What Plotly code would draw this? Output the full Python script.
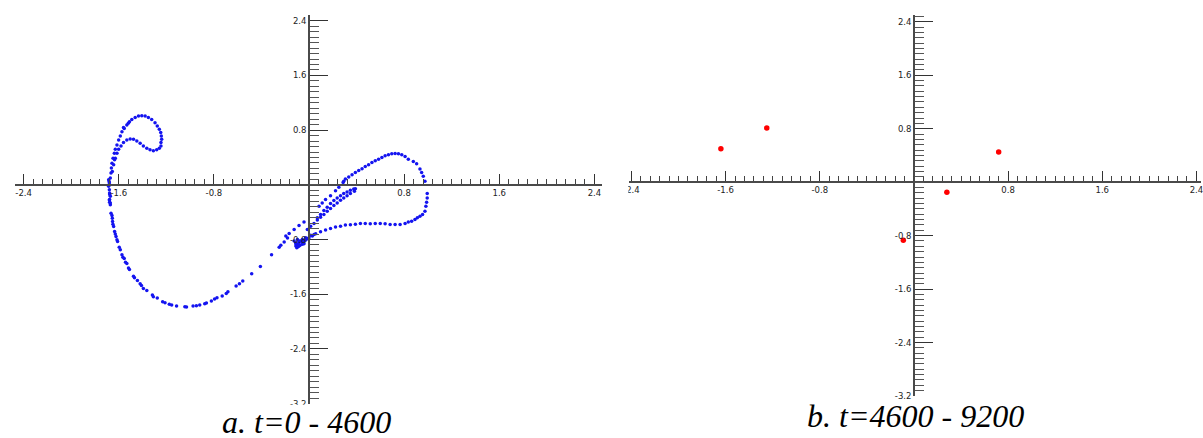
import plotly.graph_objects as go

W, H = 1203, 438

# ---------------- data ----------------
# panel a: trajectory points, t = 0 - 4600
hook_outer_x = [-1.671, -1.665, -1.662, -1.657, -1.648, -1.637, -1.629, -1.615, -1.601, -1.587, -1.573,
                -1.554, -1.532, -1.510, -1.490, -1.462, -1.434, -1.406, -1.378, -1.351, -1.323, -1.295,
                -1.276, -1.259, -1.247, -1.242, -1.239, -1.245, -1.654, -1.643, -1.635, -1.560, -1.520]
hook_outer_y = [0.099, 0.172, 0.245, 0.317, 0.390, 0.463, 0.521, 0.584, 0.657, 0.716, 0.778,
                0.826, 0.875, 0.924, 0.957, 0.986, 1.006, 1.011, 1.006, 0.986, 0.957, 0.909,
                0.861, 0.812, 0.764, 0.716, 0.666, 0.618, 0.196, 0.294, 0.366, 0.840, 0.900]

hook_inner_x = [-1.629, -1.615, -1.601, -1.581, -1.560, -1.532, -1.504, -1.476, -1.448, -1.420, -1.393,
                -1.364, -1.337, -1.309, -1.281, -1.259, -1.245]
hook_inner_y = [0.390, 0.463, 0.521, 0.570, 0.618, 0.657, 0.672, 0.666, 0.643, 0.608, 0.570,
                0.535, 0.512, 0.497, 0.512, 0.535, 0.570]

left_edge_x = [-1.685, -1.679, -1.685, -1.679, -1.677, -1.671, -1.677, -1.671, -1.681, -1.676]
left_edge_y = [0.076, 0.026, -0.022, -0.070, -0.119, -0.167, -0.215, -0.264, 0.050, -0.140]

big_loop_x = [-1.679, -1.677, -1.671, -1.665, -1.657, -1.654, -1.652, -1.649, -1.643, -1.635, -1.629,
              -1.623, -1.615, -1.610, -1.596, -1.587, -1.573, -1.565, -1.554, -1.543, -1.532, -1.518,
              -1.510, -1.476, -1.468, -1.443, -1.420, -1.409, -1.393, -1.364, -1.317, -1.309, -1.276,
              -1.231, -1.211, -1.175, -1.155, -1.114, -1.044, -1.030, -0.975, -0.947, -0.919, -0.877,
              -0.863, -0.821, -0.794, -0.774, -0.730, -0.696, -0.682, -0.613, -0.585, -0.557, -0.482,
              -0.409, -0.315, -0.251, -0.237, -0.209, -0.181]
big_loop_y = [-0.221, -0.255, -0.293, -0.415, -0.449, -0.487, -0.536, -0.575, -0.609, -0.681, -0.720,
              -0.754, -0.803, -0.827, -0.914, -0.948, -1.021, -1.060, -1.079, -1.132, -1.152, -1.215,
              -1.239, -1.336, -1.360, -1.399, -1.447, -1.472, -1.516, -1.545, -1.612, -1.636, -1.655,
              -1.709, -1.724, -1.748, -1.757, -1.772, -1.782, -1.786, -1.772, -1.767, -1.757, -1.738,
              -1.728, -1.699, -1.670, -1.651, -1.626, -1.588, -1.564, -1.481, -1.447, -1.408, -1.302,
              -1.196, -1.021, -0.914, -0.884, -0.836, -0.778]

outer_lobe_x = [0.292, 0.306, 0.334, 0.362, 0.390, 0.418, 0.446, 0.473, 0.501, 0.529, 0.557, 0.585,
                0.613, 0.640, 0.668, 0.696, 0.724, 0.752, 0.780, 0.808, 0.835, 0.877, 0.905, 0.933,
                0.947, 0.961, 0.975, 0.994, 0.994, 0.989, 0.983, 0.975, 0.955, 0.933, 0.911, 0.891,
                0.863, 0.835, 0.808, 0.766, 0.724, 0.682, 0.640, 0.599, 0.557, 0.515, 0.473, 0.432,
                0.390, 0.348, 0.306, 0.265, 0.223, 0.181, 0.139, 0.097, 0.056, 0.014, -0.028, -0.056,
                -0.084, -0.111]
outer_lobe_y = [0.051, 0.085, 0.114, 0.148, 0.182, 0.211, 0.235, 0.269, 0.293, 0.327, 0.352, 0.376,
                0.400, 0.424, 0.439, 0.453, 0.458, 0.453, 0.439, 0.415, 0.376, 0.342, 0.308, 0.230,
                0.182, 0.124, 0.051, -0.128, -0.192, -0.255, -0.313, -0.385, -0.434, -0.458, -0.482, -0.507,
                -0.531, -0.545, -0.565, -0.579, -0.579, -0.579, -0.570, -0.565, -0.565, -0.570, -0.565, -0.565,
                -0.575, -0.584, -0.589, -0.604, -0.618, -0.638, -0.662, -0.686, -0.715, -0.739, -0.773, -0.798,
                -0.822, -0.861]

lobe_branch_x = [-0.195, -0.167, -0.125, -0.084, -0.042, 0.084, 0.111, 0.139, 0.181, 0.223, 0.251, 0.287]
lobe_branch_y = [-0.749, -0.710, -0.652, -0.594, -0.545, -0.313, -0.264, -0.216, -0.158, -0.085, -0.036, 0.036]

mid_lobe_x = [0.070, 0.097, 0.125, 0.153, 0.181, 0.209, 0.237, 0.265, 0.292, 0.320, 0.348, 0.376, 0.390,
              0.382, 0.348, 0.320, 0.292, 0.265, 0.237, 0.209, 0.181, 0.153, 0.125, 0.097, 0.070, 0.042,
              0.014, -0.014]
mid_lobe_y = [-0.482, -0.434, -0.376, -0.327, -0.274, -0.230, -0.192, -0.158, -0.128, -0.104, -0.080, -0.061, -0.056,
              -0.095, -0.128, -0.158, -0.192, -0.225, -0.264, -0.303, -0.347, -0.385, -0.434, -0.473, -0.516, -0.565,
              -0.604, -0.652]

cluster_x = [-0.111, -0.097, -0.084, -0.070, -0.103, -0.092, -0.056, -0.042, -0.028, -0.014, 0.000,
             -0.075, -0.111, -0.125, -0.097, 0.028, 0.042, -0.056, -0.084, -0.042]
cluster_y = [-0.895, -0.870, -0.846, -0.822, -0.919, -0.904, -0.846, -0.822, -0.807, -0.788, -0.773,
             -0.885, -0.846, -0.822, -0.798, -0.749, -0.725, -0.870, -0.895, -0.861]

# panel b: points, t = 4600 - 9200
b_x = [-1.64, -1.25, 0.72, 0.28, -0.09]
b_y = [0.50, 0.81, 0.45, -0.15, -0.87]

x_tick_vals = [-2.4, -1.6, -0.8, 0.8, 1.6, 2.4]
x_tick_text = ["-2.4", "-1.6", "-0.8", "0.8", "1.6", "2.4"]
y_tick_vals = [2.4, 1.6, 0.8, -0.8, -1.6, -2.4, -3.2]
y_tick_text = ["2.4", "1.6", "0.8", "-0.8", "-1.6", "-2.4", "-3.2"]
captions = ["a. t=0 - 4600", "b. t=4600 - 9200"]

# ---------------- figure ----------------
a_x = hook_outer_x + hook_inner_x + left_edge_x + big_loop_x + outer_lobe_x + lobe_branch_x + mid_lobe_x + cluster_x
a_y = hook_outer_y + hook_inner_y + left_edge_y + big_loop_y + outer_lobe_y + lobe_branch_y + mid_lobe_y + cluster_y

fig = go.Figure()
fig.add_trace(go.Scatter(x=a_x, y=a_y, mode="markers", xaxis="x", yaxis="y",
                         marker=dict(color="#1414f0", size=3.5, line=dict(width=0)),
                         showlegend=False, hoverinfo="skip"))
fig.add_trace(go.Scatter(x=b_x, y=b_y, mode="markers", xaxis="x2", yaxis="y2",
                         marker=dict(color="#ff0000", size=5.5, line=dict(width=0)),
                         showlegend=False, hoverinfo="skip"))

tickfont = dict(family="DejaVu Sans", size=8.5, color="#222")
line_col = "#4a4a4a"


def xaxis_cfg(domain, rng, pos):
    return dict(domain=domain, range=rng, anchor="free", position=pos,
                showline=True, linecolor=line_col, linewidth=1.6,
                showgrid=False, zeroline=False,
                tickmode="array", tickvals=x_tick_vals, ticktext=x_tick_text,
                ticks="inside", ticklen=10, tickwidth=1, tickcolor="#333",
                minor=dict(tickmode="linear", tick0=0, dtick=0.08, ticks="inside",
                           ticklen=5, tickwidth=1, tickcolor="#444"),
                tickfont=tickfont, ticklabeloverflow="allow", fixedrange=True)


def yaxis_cfg(domain, rng, pos):
    return dict(domain=domain, range=rng, anchor="free", position=pos,
                showline=True, linecolor=line_col, linewidth=1.6,
                showgrid=False, zeroline=False,
                tickmode="array", tickvals=y_tick_vals, ticktext=y_tick_text,
                ticks="inside", ticklen=18, tickwidth=1, tickcolor="#333",
                minor=dict(tickmode="linear", tick0=0, dtick=0.08, ticks="inside",
                           ticklen=9, tickwidth=1, tickcolor="#555"),
                tickfont=tickfont, ticklabeloverflow="allow", fixedrange=True)


fig.update_layout(
    width=W, height=H, autosize=False,
    margin=dict(l=0, r=0, t=0, b=0),
    paper_bgcolor="white", plot_bgcolor="white",
    xaxis=xaxis_cfg([9 / W, 600 / W], [-2.473, 2.464], 1 - 187.0 / H),
    yaxis=yaxis_cfg([1 - 408.6 / H, 1 - 15.0 / H], [-3.205, 2.487], 305 / W),
    xaxis2=xaxis_cfg([627 / W, 1.0], [-2.422, 2.439], 1 - 184.3 / H),
    yaxis2=yaxis_cfg([1 - 400.6 / H, 1 - 15.3 / H], [-3.2, 2.5], 914 / W),
    shapes=[
        dict(type="rect", xref="paper", yref="paper", x0=0, x1=600 / W, y0=0, y1=1 - 409.3 / H,
             fillcolor="white", line=dict(width=0), layer="above"),
        dict(type="rect", xref="paper", yref="paper", x0=601 / W, x1=626.5 / W, y0=0, y1=1,
             fillcolor="white", line=dict(width=0), layer="above"),
    ],
    annotations=[
        dict(text=captions[0], x=303 / W, y=1 - 427 / H, xref="paper", yref="paper",
             xanchor="center", yanchor="middle", showarrow=False,
             font=dict(family="Liberation Serif", size=32, color="black", style="italic")),
        dict(text=captions[1], x=916 / W, y=1 - 421 / H, xref="paper", yref="paper",
             xanchor="center", yanchor="middle", showarrow=False,
             font=dict(family="Liberation Serif", size=32, color="black", style="italic")),
    ],
)

post = (
    "var s=document.createElement('style');"
    "s.innerHTML='html,body{margin:0!important;padding:0!important;width:1203px;height:438px;overflow:hidden!important;}';"
    "document.head.appendChild(s);"
    "var d=document.getElementById('{plot_id}');"
    "d.style.position='absolute';d.style.left='0px';d.style.top='0px';"
)
fig.write_html("out.html", config={"responsive": False, "displayModeBar": False}, post_script=post)
